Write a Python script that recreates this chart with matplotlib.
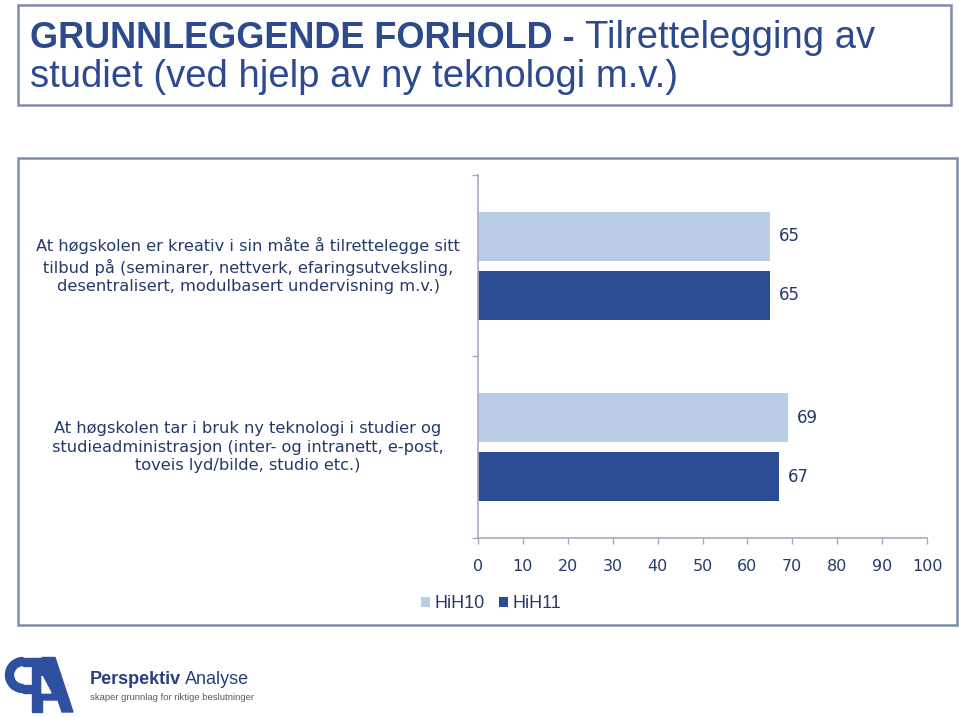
import numpy as np
import matplotlib
matplotlib.use("Agg")
import matplotlib.pyplot as plt
from matplotlib.patches import Rectangle, Polygon, Wedge

# data
categories = [
    "At høgskolen er kreativ i sin måte å tilrettelegge sitt\n"
    "tilbud på (seminarer, nettverk, efaringsutveksling,\n"
    "desentralisert, modulbasert undervisning m.v.)",
    "At høgskolen tar i bruk ny teknologi i studier og\n"
    "studieadministrasjon (inter- og intranett, e-post,\n"
    "toveis lyd/bilde, studio etc.)",
]
hih10 = [65, 69]
hih11 = [65, 67]
series_names = ["HiH10", "HiH11"]
x_ticks = list(range(0, 101, 10))

light = "#b9cde5"
dark = "#2b4b93"
navy = "#253a6b"
title_col = "#2d4a8f"
axis_col = "#a7a9c0"
box_col = "#7f8ca8"

W, H = 959, 717
fig = plt.figure(figsize=(W / 100, H / 100), dpi=100)

# background layer in pixel coords
bg = fig.add_axes([0, 0, 1, 1])
bg.set_xlim(0, W)
bg.set_ylim(H, 0)
bg.axis("off")

bg.add_patch(Rectangle((18, 5), 933, 100, fill=False, ec=box_col, lw=1.8))
bg.add_patch(Rectangle((18, 158), 939, 467, fill=False, ec=box_col, lw=1.8))

# title, bold part then normal part
t1 = bg.text(30, 38, "GRUNNLEGGENDE FORHOLD - ", fontsize=26, fontweight="bold",
             family="Liberation Sans", color=title_col, va="center", ha="left")
fig.canvas.draw()
r = fig.canvas.get_renderer()
bb = t1.get_window_extent(r)
bg.text(bb.x1, 38, "Tilrettelegging av", fontsize=27.5, family="Liberation Sans",
        color=title_col, va="center", ha="left")
bg.text(30, 77, "studiet (ved hjelp av ny teknologi m.v.)", fontsize=27.5,
        family="Liberation Sans", color=title_col, va="center", ha="left")

# main chart
ax = fig.add_axes([478 / W, 1 - 538 / H, 449 / W, 363 / H])
y = np.arange(len(categories))
h = 0.27
off = 0.163
b1 = ax.barh(y - off, hih10, height=h, color=light, label=series_names[0])
b2 = ax.barh(y + off, hih11, height=h, color=dark, label=series_names[1])
ax.set_xlim(0, 100)
ax.set_ylim(len(categories) - 0.5, -0.5)

for bars, vals in [(b1, hih10), (b2, hih11)]:
    for rect, v in zip(bars, vals):
        ax.annotate(str(v), (v, rect.get_y() + rect.get_height() / 2),
                    xytext=(9, 0), textcoords="offset pixels",
                    ha="left", va="center", fontsize=12, color=navy,
                    family="DejaVu Sans")

for i, lab in enumerate(categories):
    ax.text(-0.512, i, lab, transform=ax.get_yaxis_transform(), ha="center",
            va="center", fontsize=11.7, color=navy, linespacing=1.3,
            family="DejaVu Sans")

ax.set_xticks(x_ticks)
ax.set_xticklabels([str(t) for t in x_ticks], fontsize=11.5, color=navy,
                   family="DejaVu Sans")
ax.set_yticks(np.arange(-0.5, len(categories)))
ax.set_yticklabels([])
ax.tick_params(axis="x", length=4, width=1, color=axis_col, pad=11)
ax.tick_params(axis="y", length=4, width=1, color=axis_col)
for s in ["top", "right"]:
    ax.spines[s].set_visible(False)
for s in ["left", "bottom"]:
    ax.spines[s].set_color(axis_col)
    ax.spines[s].set_linewidth(1.2)

leg = fig.legend(handles=[b1, b2], labels=series_names, loc="center",
                 bbox_to_anchor=(491 / W, 1 - 604 / H), ncol=2, frameon=False,
                 handlelength=0.5, handleheight=0.5, handletextpad=0.25,
                 columnspacing=0.8, prop={"family": "Liberation Sans", "size": 13})
for t in leg.get_texts():
    t.set_color(navy)

# logo
logo = "#2f50a0"
bg.add_patch(Wedge((23, 675), 17.5, 90, 270, width=8, color=logo))
bg.add_patch(Rectangle((23, 657.5), 10, 8, color=logo))
bg.add_patch(Rectangle((23, 684.5), 10, 8, color=logo))
bg.add_patch(Rectangle((32, 657.5), 10, 54.5, color=logo))
bg.add_patch(Polygon([(42, 657.5), (55, 657.5), (73, 712), (62, 712), (58, 700),
                      (42, 700)], color=logo))
bg.add_patch(Polygon([(42, 676), (51, 693), (42, 693)], color="white"))
p1 = bg.text(90, 680, "Perspektiv", fontsize=13, fontweight="bold",
             family="Liberation Sans", color="#2b3f7f", va="center")
fig.canvas.draw()
bb = p1.get_window_extent(fig.canvas.get_renderer())
bg.text(bb.x1 + 4, 680, "Analyse", fontsize=13, family="Liberation Sans",
        color="#2b3f7f", va="center")
bg.text(90, 697, "skaper grunnlag for riktige beslutninger", fontsize=6.8,
        family="Liberation Sans", color="#555a66", va="center")

fig.savefig("out.png", dpi=100)
